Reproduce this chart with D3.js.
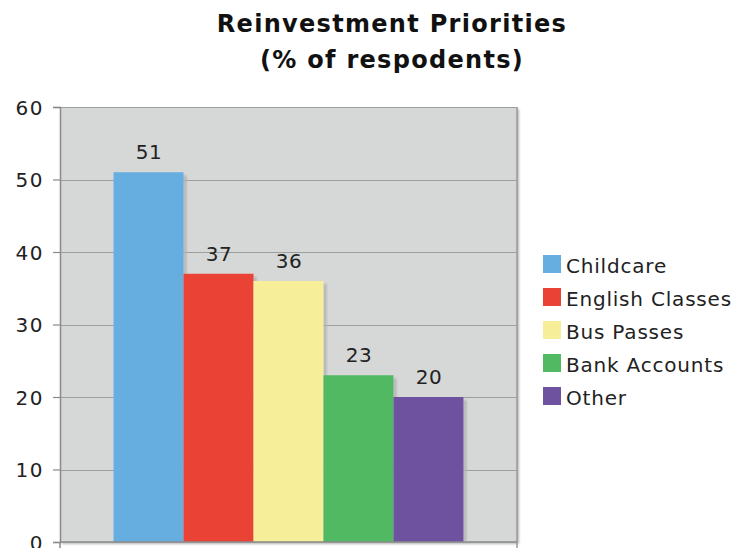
<!DOCTYPE html>
<html>
<head>
<meta charset="utf-8">
<script src="https://cdn.jsdelivr.net/npm/d3@7"></script>
<style>
  html, body { margin: 0; padding: 0; background: #ffffff; }
  svg { display: block; }
  text { font-family: "DejaVu Sans", Verdana, sans-serif; fill: #222; }
</style>
</head>
<body>
<svg id="chart" width="739" height="548"></svg>
<script>
// Survey results: share of respondents choosing each reinvestment priority
const categories = ["Childcare", "English Classes", "Bus Passes", "Bank Accounts", "Other"];
const values = [51, 37, 36, 23, 20];
const colors = ["#67aee0", "#ea4335", "#f6ee99", "#52b963", "#6e52a0"];
const yTicks = [0, 10, 20, 30, 40, 50, 60];
const titleLines = ["Reinvestment Priorities", "(% of respodents)"];

const svg = d3.select("#chart");
const plot = { left: 60, right: 517, top: 107, bottom: 542 };

const y = d3.scaleLinear().domain([0, 60]).range([plot.bottom, plot.top]);

// One group holding all five series side by side
const group = d3.scaleBand().domain(["all"]).range([plot.left, plot.right]).paddingOuter(0.153);
const x = d3.scaleBand().domain(categories).range([group("all"), group("all") + group.bandwidth()]);

const defs = svg.append("defs");
defs.append("filter").attr("id", "soft")
  .attr("x", "-20%").attr("y", "-20%").attr("width", "140%").attr("height", "140%")
  .append("feGaussianBlur").attr("stdDeviation", 0.8);

// Title
svg.append("g").selectAll("text").data(titleLines).join("text")
  .attr("x", 392).attr("y", (d, i) => 32 + i * 36)
  .attr("text-anchor", "middle")
  .style("font-weight", "bold").style("font-size", "24px")
  .style("letter-spacing", "1.3px").style("fill", "#111")
  .text(d => d);

// Plot background with a faint shadow on its right and bottom
svg.append("rect")
  .attr("x", plot.left + 2).attr("y", plot.top + 2)
  .attr("width", plot.right - plot.left).attr("height", plot.bottom - plot.top)
  .attr("fill", "#b5b5b5").attr("filter", "url(#soft)");
svg.append("rect")
  .attr("x", plot.left).attr("y", plot.top)
  .attr("width", plot.right - plot.left).attr("height", plot.bottom - plot.top)
  .attr("fill", "#d6d7d7");

// Gridlines
svg.append("g").selectAll("line").data(yTicks.filter(t => t > 0)).join("line")
  .attr("x1", plot.left).attr("x2", plot.right)
  .attr("y1", d => Math.round(y(d)) + 0.5).attr("y2", d => Math.round(y(d)) + 0.5)
  .attr("stroke", "#9e9e9e").attr("stroke-width", 1.2);

// Bar shadows
svg.append("g").selectAll("rect").data(values).join("rect")
  .attr("x", (d, i) => x(categories[i]) + x.bandwidth())
  .attr("y", d => y(d) + 3)
  .attr("width", 3)
  .attr("height", d => plot.bottom - y(d) - 3)
  .attr("fill", "#b2b2b2").attr("filter", "url(#soft)");

// Bars
svg.append("g").selectAll("rect").data(values).join("rect")
  .attr("x", (d, i) => x(categories[i]))
  .attr("y", d => y(d))
  .attr("width", x.bandwidth())
  .attr("height", d => plot.bottom - y(d))
  .attr("fill", (d, i) => colors[i]);

// Value labels
svg.append("g").selectAll("text").data(values).join("text")
  .attr("x", (d, i) => x(categories[i]) + x.bandwidth() / 2 + 0.5)
  .attr("y", d => y(d) - 13)
  .attr("text-anchor", "middle")
  .style("font-size", "20px").style("letter-spacing", "0.6px").style("fill", "#222")
  .text(d => d);

// Y axis
const yAxis = d3.axisLeft(y).tickValues(yTicks).tickSize(7).tickPadding(9);
const ag = svg.append("g").attr("transform", `translate(${plot.left},0)`).call(yAxis);
ag.select(".domain").attr("stroke", "#8a8a8a").attr("stroke-width", 1.5);
ag.selectAll(".tick line").attr("stroke", "#8a8a8a").attr("stroke-width", 1.2);
ag.selectAll(".tick text")
  .style("font-size", "20px").style("letter-spacing", "1.5px")
  .style("font-family", "'DejaVu Sans', Verdana, sans-serif")
  .attr("fill", "#222").attr("dy", "0.36em");

// Right border and base line
svg.append("line")
  .attr("x1", plot.right).attr("x2", plot.right)
  .attr("y1", plot.top).attr("y2", plot.bottom + 6)
  .attr("stroke", "#9a9a9a").attr("stroke-width", 1.5);
svg.append("line")
  .attr("x1", plot.left).attr("x2", plot.right)
  .attr("y1", plot.bottom).attr("y2", plot.bottom)
  .attr("stroke", "#8a8a8a").attr("stroke-width", 1.5);
svg.append("line")
  .attr("x1", plot.left).attr("x2", plot.left)
  .attr("y1", plot.bottom).attr("y2", plot.bottom + 6)
  .attr("stroke", "#8a8a8a").attr("stroke-width", 1.5);

// Legend
const legend = svg.append("g").attr("transform", "translate(543,255)");
const item = legend.selectAll("g").data(categories).join("g")
  .attr("transform", (d, i) => `translate(0,${i * 33})`);
item.append("rect").attr("width", 18).attr("height", 18)
  .attr("fill", (d, i) => colors[i]);
item.append("text").attr("x", 23).attr("y", 18)
  .style("font-size", "20px").style("letter-spacing", "0.8px").style("fill", "#222")
  .text(d => d);
</script>
</body>
</html>
